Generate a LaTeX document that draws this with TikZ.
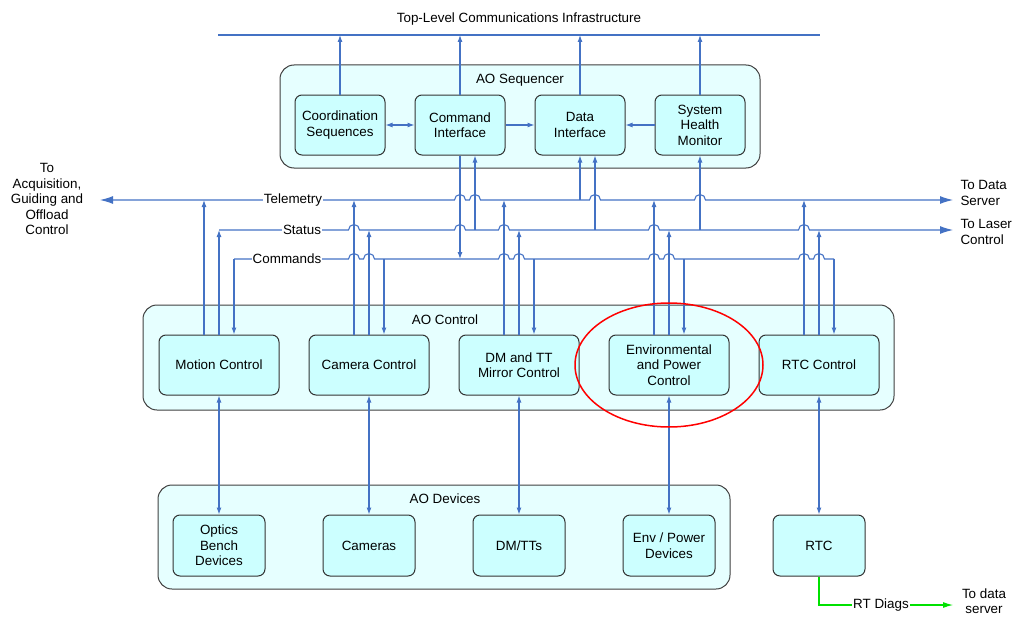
\documentclass[tikz,border=0pt]{standalone}
\usepackage{fontspec}
\setmainfont{Liberation Sans}
\usetikzlibrary{arrows.meta}
\definecolor{aoblue}{RGB}{68,114,196}
\definecolor{boxcyan}{RGB}{204,255,255}
\definecolor{groupcyan}{RGB}{230,255,255}
\definecolor{diaggreen}{RGB}{0,225,0}

\begin{document}
\begin{tikzpicture}[x=1pt,y=-1pt,
  font=\fontsize{13.4}{15.5}\selectfont,
  >={Latex[length=7pt,width=5pt]},
  group/.style={draw=black!75,fill=groupcyan,rounded corners=14pt,line width=1pt},
  unit/.style={draw=black!80,fill=boxcyan,rounded corners=7pt,line width=1pt,align=center,inner sep=2pt},
  ctrl/.style={unit,minimum width=120pt,minimum height=60pt},
  dev/.style={unit,minimum width=92pt,minimum height=61pt},
  seq/.style={unit,minimum width=90pt,minimum height=60pt},
  wire/.style={draw=aoblue,line width=1.1pt},
  arr/.style={wire,->},
  darr/.style={wire,<->},
  bigtip/.style={-{Latex[length=13pt,width=8pt]}},
  buslabel/.style={fill=white,inner sep=1pt}
]
\useasboundingbox (0,0) rectangle (1015,618);

% Top-level bus
\node (toplbl) at (519,19) {Top-Level Communications Infrastructure};
\coordinate (topl) at (218,35);
\coordinate (topr) at (820,35);
\draw[wire] (topl) -- (topr);

% AO Sequencer
\node[group,minimum width=480pt,minimum height=103pt] (seqgrp) at (520,116.5) {};
\node (seqlbl) at (520,80) {AO Sequencer};
\foreach \name/\x/\txt in {coord/340/Coordination\\Sequences, cmdi/460/Command\\Interface,
    datai/580/Data\\Interface, shm/700/System\\Health\\Monitor}
  \node[seq] (\name) at (\x,125) {\txt};
\foreach \name in {coord,cmdi,datai,shm}
  \draw[arr] (\name.north) -- (\name.north |- topl);
\draw[darr] (coord) -- (cmdi);
\draw[arr] (cmdi) -- (datai);
\draw[arr] (shm) -- (datai);

% AO Control
\node[group,minimum width=751pt,minimum height=105pt] (ctlgrp) at (518.5,357.5) {};
\node (ctllbl) at (445,320) {AO Control};
\foreach \name/\x/\txt in {mot/219/Motion Control, cam/369/Camera Control, dmc/519/DM and TT\\Mirror Control,
    envc/669/Environmental\\and Power\\Control, rtcc/819/RTC Control}
  \node[ctrl] (\name) at (\x,365) {\txt};

% AO Devices
\node[group,minimum width=572pt,minimum height=104pt] (devgrp) at (444,537) {};
\node (devlbl) at (445,499) {AO Devices};
\foreach \name/\x/\txt in {optics/219/Optics\\Bench\\Devices, cams/369/Cameras, dmtt/519/{DM/TTs},
    envd/669/{Env / Power\\Devices}, rtc/819/RTC}
  \node[dev] (\name) at (\x,545.5) {\txt};
\foreach \ctl/\dev in {mot/optics,cam/cams,dmc/dmtt,envc/envd,rtcc/rtc}
  \draw[darr] (\ctl) -- (\dev);

% Buses: telemetry, status, commands
\coordinate (tml) at (100,200);
\coordinate (tmr) at (953,200);
\coordinate (stl) at (219,230);
\coordinate (str) at (953,230);
\coordinate (cml) at (234,259);
\coordinate (cmr) at (834,259);

\draw[wire,{Latex[length=13pt,width=8pt]}-{Latex[length=13pt,width=8pt]}] (tml)
  \foreach \x in {460,475,595,700} { -- (\x-5.5,200) arc[start angle=180,end angle=0,radius=5.5pt] } -- (tmr);
\draw[wire,bigtip] (stl)
  \foreach \x in {354,460,504,654,804} { -- (\x-5.5,230) arc[start angle=180,end angle=0,radius=5.5pt] } -- (str);
\draw[wire] (cml)
  \foreach \x in {354,369,504,519,654,669,804,819} { -- (\x-5.5,259) arc[start angle=180,end angle=0,radius=5.5pt] } -- (cmr);

\node[buslabel] (tmlbl) at (293,200) {Telemetry};
\node[buslabel] (stlbl) at (302,230) {Status};
\node[buslabel] (cmlbl) at (287,259) {Commands};

% Control units to buses
\foreach \name in {mot,cam,dmc,envc,rtcc} {
  \coordinate (\name-t) at ([xshift=-15pt]\name.north);
  \coordinate (\name-c) at ([xshift=15pt]\name.north);
  \draw[arr] (\name-t) -- (\name-t |- tml);
  \draw[arr] (\name.north) -- (\name.north |- stl);
  \draw[arr] (\name-c |- cml) -- (\name-c);
}

% Sequencer to buses
\coordinate (cmdi-s) at ([xshift=15pt]cmdi.south);
\coordinate (datai-s) at ([xshift=15pt]datai.south);
\draw[arr] (cmdi.south) -- (cmdi.south |- cml);
\draw[arr] (cmdi-s |- stl) -- (cmdi-s);
\draw[arr] (datai.south |- tml) -- (datai.south);
\draw[arr] (datai-s |- stl) -- (datai-s);
\draw[arr] (shm.south |- stl) -- (shm.south);

% Outside ends
\node[align=center] (agoc) at (47,199) {To\\Acquisition,\\Guiding and\\Offload\\Control};
\node[anchor=west,align=left] (dsrv) at (957,193) {To Data\\Server};
\node[anchor=west,align=left] (lsr) at (957,232) {To Laser\\Control};

% RT diagnostics
\coordinate (diagend) at (953,605);
\draw[draw=diaggreen,line width=1.1pt,-{Latex[length=10pt,width=6pt]}] (rtc.south) |- (diagend);
\node[buslabel] (diaglbl) at (881,605) {RT Diags};
\node[align=center] (rtsrv) at (984,601) {To data\\server};

% Highlight
\draw[red,line width=1.5pt] (envc) ellipse [x radius=94pt,y radius=62pt];
\end{tikzpicture}
\end{document}
